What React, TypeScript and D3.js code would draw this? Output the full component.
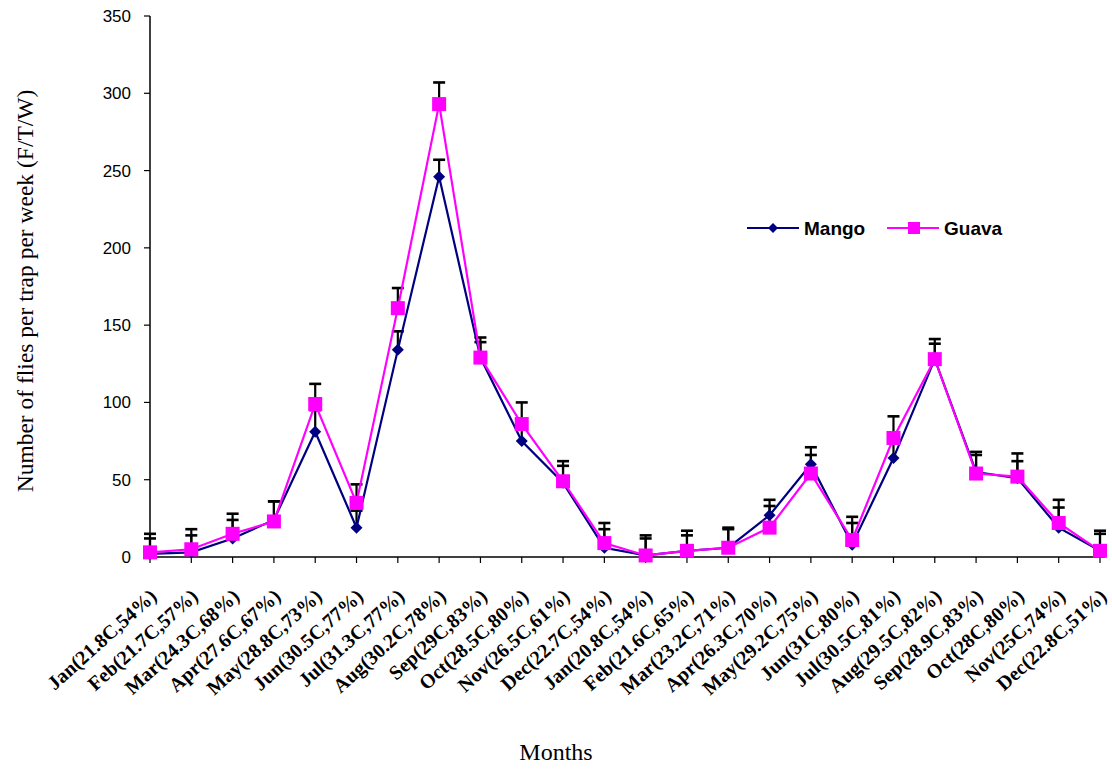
import React from "react";
import * as d3 from "d3";

const months = [
  "Jan(21.8C,54%)", "Feb(21.7C,57%)", "Mar(24.3C,68%)", "Apr(27.6C,67%)",
  "May(28.8C,73%)", "Jun(30.5C,77%)", "Jul(31.3C,77%)", "Aug(30.2C,78%)",
  "Sep(29C,83%)", "Oct(28.5C,80%)", "Nov(26.5C,61%)", "Dec(22.7C,54%)",
  "Jan(20.8C,54%)", "Feb(21.6C,65%)", "Mar(23.2C,71%)", "Apr(26.3C,70%)",
  "May(29.2C,75%)", "Jun(31C,80%)", "Jul(30.5C,81%)", "Aug(29.5C,82%)",
  "Sep(28.9C,83%)", "Oct(28C,80%)", "Nov(25C,74%)", "Dec(22.8C,51%)",
];

const mango = [2, 3, 12, 24, 81, 19, 134, 246, 129, 75, 48, 6, 1, 4, 6, 27, 60, 8, 64, 128, 55, 51, 19, 4];
const mangoErr = [10, 11, 12, 12, 14, 11, 12, 11, 10, 11, 11, 12, 11, 10, 12, 6, 6, 14, 12, 10, 11, 11, 13, 11];
const guava = [3, 5, 15, 23, 99, 35, 161, 293, 129, 86, 49, 9, 1, 4, 6, 19, 54, 11, 77, 128, 54, 52, 22, 4];
const guavaErr = [12, 13, 13, 13, 13, 12, 13, 14, 13, 14, 13, 13, 13, 13, 13, 18, 17, 15, 14, 13, 14, 15, 15, 13];

const yTicks = [0, 50, 100, 150, 200, 250, 300, 350];

const W = 1112;
const H = 769;
const left = 150;
const right = 1100;
const top = 16;
const bottom = 557;

export default function App() {
  const x = d3.scalePoint<number>().domain(d3.range(months.length)).range([left, right]);
  const y = d3.scaleLinear().domain([0, 350]).range([bottom, top]);
  const line = d3
    .line<number>()
    .x((_, i) => x(i)!)
    .y((d) => y(d));

  const errBar = (vals: number[], errs: number[], key: string) =>
    vals.map((v, i) => {
      const xi = x(i)!;
      const yt = y(v + errs[i]);
      return (
        <g key={key + i} stroke="#000" strokeWidth={2.2}>
          <line x1={xi} x2={xi} y1={y(v)} y2={yt} />
          <line x1={xi - 6} x2={xi + 6} y1={yt} y2={yt} strokeWidth={2.6} />
        </g>
      );
    });

  const diamond = (cx: number, cy: number, r: number, k: string) => (
    <path
      key={k}
      d={`M${cx},${cy - r}L${cx + r},${cy}L${cx},${cy + r}L${cx - r},${cy}Z`}
      fill="#000080"
    />
  );

  return (
    <svg width={W} height={H} style={{ position: "absolute", left: 0, top: 0 }}>
      <rect width={W} height={H} fill="#fff" />
      {errBar(mango, mangoErr, "me")}
      {errBar(guava, guavaErr, "ge")}
      <line x1={left} x2={left} y1={top} y2={bottom} stroke="#000" strokeWidth={1.5} />
      <line x1={left} x2={right + 5} y1={bottom} y2={bottom} stroke="#000" strokeWidth={1.5} />
      {yTicks.map((t) => (
        <g key={"yt" + t}>
          <line x1={left - 6} x2={left} y1={y(t)} y2={y(t)} stroke="#000" strokeWidth={1.2} />
          <text
            x={left - 19}
            y={y(t)}
            dy="0.35em"
            textAnchor="end"
            fontFamily="Liberation Sans, Arial, sans-serif"
            fontSize={17}
            fill="#000"
          >
            {t}
          </text>
        </g>
      ))}
      {months.map((m, i) => (
        <g key={"xt" + i}>
          <line x1={x(i)} x2={x(i)} y1={bottom} y2={bottom + 6} stroke="#000" strokeWidth={1.2} />
          <text
            transform={`translate(${x(i)! + 8},${bottom + 41}) rotate(-42)`}
            textAnchor="end"
            fontFamily="Liberation Serif, Times New Roman, serif"
            fontWeight="bold"
            fontSize={20}
            fill="#000"
          >
            {m}
          </text>
        </g>
      ))}
      <path d={line(mango)!} fill="none" stroke="#000080" strokeWidth={2.2} />
      <path d={line(guava)!} fill="none" stroke="#FF00FF" strokeWidth={2.2} />
      {mango.map((v, i) => diamond(x(i)!, y(v), 6, "md" + i))}
      {guava.map((v, i) => (
        <rect key={"gs" + i} x={x(i)! - 7} y={y(v) - 7} width={14} height={14} fill="#FF00FF" />
      ))}
      <text
        transform={`translate(33,291) rotate(-90)`}
        textAnchor="middle"
        fontFamily="Liberation Serif, Times New Roman, serif"
        fontSize={23.5}
        fill="#000"
      >
        Number of flies per trap per week (F/T/W)
      </text>
      <text
        x={556}
        y={760}
        textAnchor="middle"
        fontFamily="Liberation Serif, Times New Roman, serif"
        fontSize={24}
        fill="#000"
      >
        Months
      </text>
      <line x1={747} x2={799} y1={228} y2={228} stroke="#000080" strokeWidth={2.2} />
      {diamond(773, 228, 5, "legd")}
      <text x={804} y={228} dy="0.36em" fontFamily="Liberation Sans, Arial, sans-serif" fontWeight="bold" fontSize={19} fill="#000">
        Mango
      </text>
      <line x1={887} x2={939} y1={228} y2={228} stroke="#FF00FF" strokeWidth={2.2} />
      <rect x={908} y={222} width={12} height={12} fill="#FF00FF" />
      <text x={944} y={228} dy="0.36em" fontFamily="Liberation Sans, Arial, sans-serif" fontWeight="bold" fontSize={19} fill="#000">
        Guava
      </text>
    </svg>
  );
}
